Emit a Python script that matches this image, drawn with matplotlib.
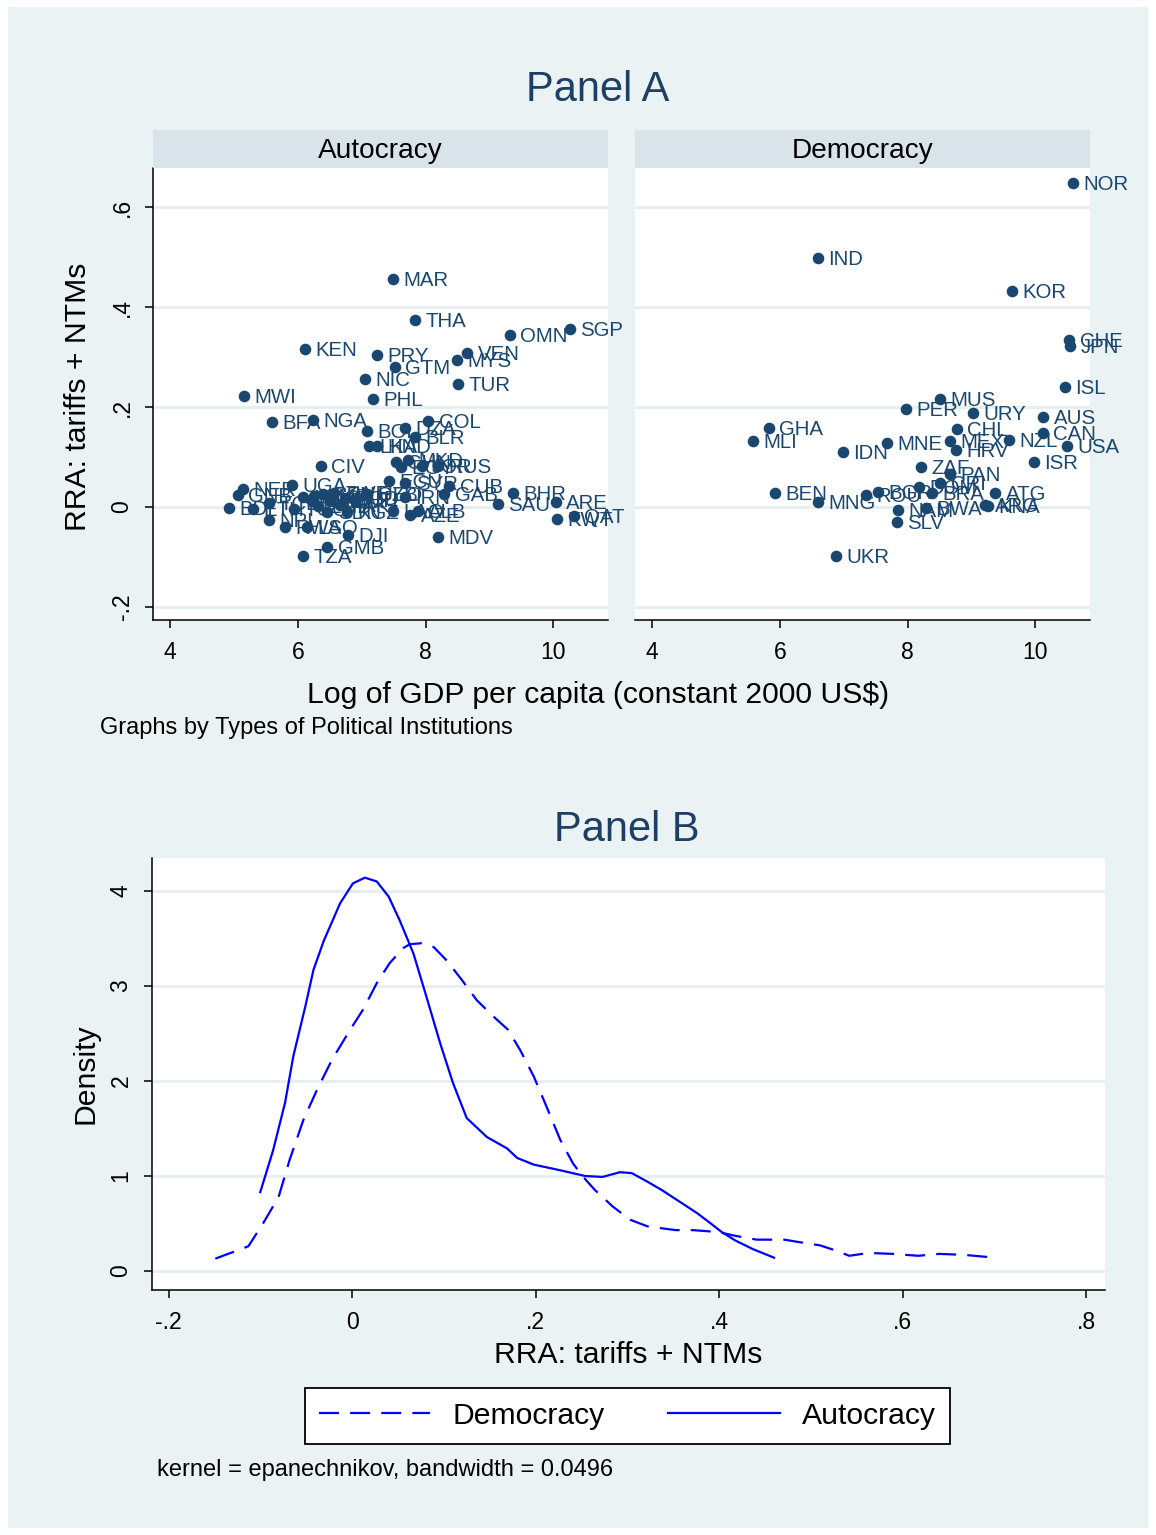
import matplotlib
matplotlib.use("Agg")
import matplotlib.pyplot as plt
from matplotlib.patches import Rectangle

plt.rcParams['font.family'] = ['Liberation Sans', 'DejaVu Sans']

NAVY = '#1A476F'
BG = '#EAF2F3'
STRIP = '#D9E4EA'
GRID = '#E6EEF0'
LINE = '#0000FF'

# ---- Panel A: RRA vs log GDP per capita, by regime type ----
auto_labels = ['MAR', 'THA', 'OMN', 'SGP', 'KEN', 'PRY', 'VEN', 'MYS', 'GTM', 'NIC',
               'TUR', 'MWI', 'PHL', 'BFA', 'NGA', 'COL', 'BOL', 'DZA', 'BLR', 'LKA',
               'HND', 'CIV', 'CHN', 'EGY', 'MKD', 'JOR', 'RUS', 'ECU', 'CUB', 'SYR',
               'GAB', 'IRN', 'GEO', 'AZE', 'ALB', 'LAO', 'CMR', 'SEN', 'YEM', 'ZMB',
               'KHM', 'SDN', 'PAK', 'BGD', 'HTI', 'MDG', 'ZWE', 'KGZ', 'UZB', 'BDI',
               'GNB', 'NER', 'ETH', 'TCD', 'NPL', 'UGA', 'TGO', 'RWA', 'LSO', 'DJI',
               'GMB', 'TZA', 'BHR', 'SAU', 'ARE', 'KWT', 'QAT', 'MDV']
auto_gdp = [7.49, 7.83, 9.32, 10.26, 6.11, 7.24, 8.65, 8.49, 7.52, 7.05,
            8.51, 5.16, 7.18, 5.60, 6.24, 8.04, 7.08, 7.68, 7.83, 7.11,
            7.24, 6.36, 7.54, 7.61, 7.72, 7.94, 8.19, 7.43, 8.37, 7.68,
            8.29, 7.68, 7.07, 7.76, 7.88, 7.49, 6.25, 6.39, 6.50, 6.32,
            6.22, 6.46, 6.66, 6.74, 6.90, 6.08, 6.57, 6.77, 7.08, 4.92,
            5.06, 5.14, 5.30, 5.55, 5.55, 5.91, 5.94, 5.80, 6.14, 6.79,
            6.46, 6.08, 9.37, 9.13, 10.04, 10.06, 10.32, 8.19]
auto_rra = [0.457, 0.375, 0.345, 0.357, 0.317, 0.305, 0.309, 0.295, 0.281, 0.257,
            0.246, 0.222, 0.216, 0.170, 0.174, 0.172, 0.152, 0.158, 0.140, 0.122,
            0.122, 0.082, 0.090, 0.080, 0.094, 0.082, 0.082, 0.052, 0.042, 0.048,
            0.026, 0.020, 0.026, -0.016, -0.008, -0.008, 0.022, 0.026, 0.012, 0.002,
            0.012, -0.010, 0.004, 0.018, 0.014, 0.020, 0.028, -0.010, 0.026, -0.002,
            0.024, 0.036, -0.004, 0.008, -0.026, 0.044, -0.004, -0.040, -0.040, -0.056,
            -0.080, -0.098, 0.028, 0.006, 0.010, -0.024, -0.018, -0.060]

demo_labels = ['NOR', 'IND', 'KOR', 'CHE', 'JPN', 'ISL', 'MUS', 'PER', 'URY', 'AUS',
               'GHA', 'CHL', 'CAN', 'MLI', 'MNE', 'MEX', 'NZL', 'USA', 'HRV', 'IDN',
               'ISR', 'ZAF', 'PAN', 'CRI', 'BRA', 'DOM', 'ROU', 'BGR', 'BEN', 'MNG',
               'NAM', 'BWA', 'SLV', 'ATG', 'ARG', 'KNA', 'UKR']
demo_gdp = [10.59, 6.60, 9.63, 10.53, 10.54, 10.46, 8.51, 7.97, 9.02, 10.12,
            5.83, 8.77, 10.12, 5.58, 7.68, 8.66, 9.59, 10.49, 8.76, 6.99,
            9.98, 8.21, 8.66, 8.51, 8.38, 8.18, 7.35, 7.54, 5.92, 6.60,
            7.85, 8.29, 7.83, 9.37, 9.21, 9.26, 6.88]
demo_rra = [0.649, 0.499, 0.433, 0.335, 0.323, 0.240, 0.216, 0.196, 0.188, 0.180,
            0.158, 0.156, 0.148, 0.132, 0.128, 0.132, 0.134, 0.122, 0.114, 0.110,
            0.090, 0.080, 0.066, 0.048, 0.028, 0.040, 0.024, 0.030, 0.028, 0.010,
            -0.006, -0.002, -0.030, 0.028, 0.004, 0.002, -0.098]

gdp_ticks = [4, 6, 8, 10]
gdp_ticklabels = ['4', '6', '8', '10']
rra_ticks = [-0.2, 0.0, 0.2, 0.4, 0.6]
rra_ticklabels = ['-.2', '0', '.2', '.4', '.6']

# ---- Panel B: kernel densities of RRA ----
auto_kx = [-0.100, -0.086, -0.073, -0.064, -0.051, -0.042, -0.031, -0.013, 0.001, 0.014,
           0.027, 0.040, 0.052, 0.067, 0.081, 0.096, 0.110, 0.125, 0.147, 0.169,
           0.180, 0.198, 0.227, 0.254, 0.273, 0.292, 0.305, 0.322, 0.338, 0.357,
           0.376, 0.391, 0.403, 0.418, 0.437, 0.460]
auto_kd = [0.83, 1.27, 1.77, 2.26, 2.78, 3.17, 3.47, 3.87, 4.08, 4.14,
           4.10, 3.94, 3.69, 3.34, 2.89, 2.40, 1.98, 1.61, 1.41, 1.29,
           1.19, 1.12, 1.06, 1.00, 0.99, 1.04, 1.03, 0.94, 0.85, 0.73,
           0.61, 0.50, 0.41, 0.32, 0.23, 0.14]
demo_kx = [-0.149, -0.124, -0.113, -0.097, -0.080, -0.068, -0.053, -0.038, -0.022, -0.002,
           0.012, 0.027, 0.041, 0.056, 0.063, 0.076, 0.089, 0.103, 0.120, 0.136,
           0.154, 0.170, 0.183, 0.198, 0.212, 0.227, 0.241, 0.252, 0.265, 0.284,
           0.303, 0.322, 0.353, 0.372, 0.399, 0.418, 0.441, 0.471, 0.490, 0.510,
           0.529, 0.542, 0.563, 0.590, 0.617, 0.640, 0.667, 0.701]
demo_kd = [0.13, 0.22, 0.26, 0.50, 0.78, 1.17, 1.59, 1.91, 2.22, 2.54,
           2.75, 3.03, 3.24, 3.40, 3.44, 3.45, 3.41, 3.27, 3.06, 2.85,
           2.68, 2.54, 2.33, 2.05, 1.73, 1.38, 1.13, 0.99, 0.85, 0.68,
           0.54, 0.47, 0.43, 0.43, 0.41, 0.37, 0.33, 0.33, 0.30, 0.27,
           0.21, 0.16, 0.19, 0.18, 0.16, 0.18, 0.17, 0.14]

dens_xticks = [-0.2, 0.0, 0.2, 0.4, 0.6, 0.8]
dens_xticklabels = ['-.2', '0', '.2', '.4', '.6', '.8']
dens_yticks = [0, 1, 2, 3, 4]
dens_yticklabels = ['0', '1', '2', '3', '4']

W, H = 1156, 1535
fig = plt.figure(figsize=(W / 100, H / 100), dpi=100, facecolor='white')
fig.patches.append(Rectangle((8 / W, 7 / H), (W - 16) / W, (H - 14) / H,
                             transform=fig.transFigure, facecolor=BG,
                             edgecolor='none', zorder=-10))


def box(x0, y0, x1, y1):
    """Pixel box (top-left origin) to figure-fraction rect."""
    return [x0 / W, 1 - y1 / H, (x1 - x0) / W, (y1 - y0) / H]


def style_axis(ax):
    for s in ('top', 'right'):
        ax.spines[s].set_visible(False)
    for s in ('left', 'bottom'):
        ax.spines[s].set_color('black')
        ax.spines[s].set_linewidth(1.1)
    ax.tick_params(direction='out', length=6, width=1.1, colors='black',
                   labelsize=16.5)


gx0, gx1 = 3.734, 10.855
ry0, ry1 = -0.2265, 0.679
TITLE_SIZE = 21.7

panels = [
    ('Autocracy', auto_labels, auto_gdp, auto_rra, (153, 608)),
    ('Democracy', demo_labels, demo_gdp, demo_rra, (635, 1090)),
]
for i, (name, labs, xs, ys, (px0, px1)) in enumerate(panels):
    ax = fig.add_axes(box(px0, 168, px1, 620))
    ax.set_facecolor('white')
    style_axis(ax)
    ax.set_xlim(gx0, gx1)
    ax.set_ylim(ry0, ry1)
    ax.set_yticks(rra_ticks)
    ax.yaxis.grid(True, color=GRID, linewidth=2)
    ax.set_axisbelow(True)
    ax.set_xticks(gdp_ticks)
    ax.set_xticklabels(gdp_ticklabels)
    ax.tick_params(axis='x', pad=9)
    if i == 0:
        ax.set_yticklabels(rra_ticklabels, rotation=90, va='center')
        ax.tick_params(axis='y', pad=8)
    else:
        ax.spines['left'].set_visible(False)
        ax.tick_params(axis='y', left=False, labelleft=False)
    ax.scatter(xs, ys, s=70, color=NAVY, linewidths=0, zorder=3, clip_on=False)
    for lab, x, y in zip(labs, xs, ys):
        ax.annotate(lab, (x, y), xytext=(7.5, -5.2), textcoords='offset points',
                    ha='left', va='baseline', color=NAVY, fontsize=14.7,
                    zorder=4, annotation_clip=False)

    sax = fig.add_axes(box(px0, 130, px1, 168))
    sax.set_facecolor(STRIP)
    sax.set_xticks([])
    sax.set_yticks([])
    for s in sax.spines.values():
        s.set_visible(False)
    sax.text(0.5, 0.45, name, ha='center', va='center', fontsize=20.2,
             color='black', transform=sax.transAxes)

fig.text(598 / W, 1 - 90 / H, 'Panel A', ha='center', va='center',
         fontsize=30, color='#1C3F63')
fig.text(78 / W, 1 - 397 / H, 'RRA: tariffs + NTMs', ha='center', va='center',
         rotation=90, fontsize=TITLE_SIZE, color='black')
fig.text(598 / W, 1 - 695 / H, 'Log of GDP per capita (constant 2000 US$)',
         ha='center', va='center', fontsize=TITLE_SIZE, color='black')
fig.text(100 / W, 1 - 728 / H, 'Graphs by Types of Political Institutions',
         ha='left', va='center', fontsize=17, color='black')

# ---- Panel B ----
bx = fig.add_axes(box(152, 858, 1105, 1290))
bx.set_facecolor('white')
style_axis(bx)
bx.set_xlim(-0.218, 0.8207)
bx.set_ylim(-0.2, 4.347)
bx.set_xticks(dens_xticks)
bx.set_xticklabels(dens_xticklabels)
bx.set_yticks(dens_yticks)
bx.set_yticklabels(dens_yticklabels, rotation=90, va='center')
bx.tick_params(axis='x', pad=9)
bx.tick_params(axis='y', pad=8)
bx.yaxis.grid(True, color=GRID, linewidth=2)
bx.set_axisbelow(True)
l_demo, = bx.plot(demo_kx, demo_kd, color=LINE, lw=1.6, linestyle=(0, (9, 5)),
                  label='Democracy')
l_auto, = bx.plot(auto_kx, auto_kd, color=LINE, lw=1.6, label='Autocracy')

fig.text(627 / W, 1 - 830 / H, 'Panel B', ha='center', va='center',
         fontsize=30, color='#1C3F63')
fig.text(85 / W, 1 - 1074 / H, 'Density', ha='center', va='center',
         rotation=90, fontsize=TITLE_SIZE, color='black')
fig.text(628 / W, 1 - 1355 / H, 'RRA: tariffs + NTMs', ha='center',
         va='center', fontsize=TITLE_SIZE, color='black')

leg = fig.legend(handles=[l_demo, l_auto], loc='center',
                 bbox_to_anchor=(627.5 / W, 1 - 1416 / H), ncol=2,
                 fontsize=21.7, frameon=True, fancybox=False, edgecolor='black',
                 facecolor='white', framealpha=1, handlelength=3.7,
                 handletextpad=0.75, columnspacing=2.1, borderpad=0.45)
leg.get_frame().set_linewidth(1.3)

fig.text(157 / W, 1 - 1470 / H, 'kernel = epanechnikov, bandwidth = 0.0496',
         ha='left', va='center', fontsize=17, color='black')

fig.savefig('out.png', dpi=100, facecolor='white')
